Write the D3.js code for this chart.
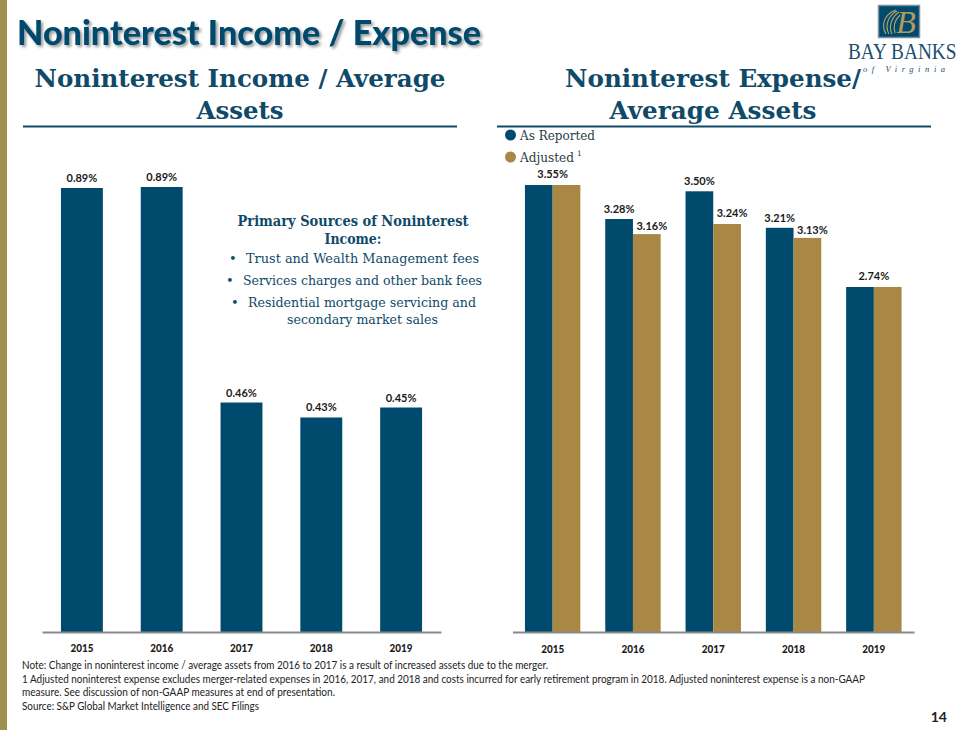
<!DOCTYPE html>
<html><head><meta charset="utf-8">
<script src="https://cdnjs.cloudflare.com/ajax/libs/d3/7.8.5/d3.min.js"></script>
<style>html,body{margin:0;background:#fff}svg{display:block}</style></head><body>
<svg id="c" width="960" height="730"></svg>
<script>
const years=["2015","2016","2017","2018","2019"];
const incomeValues=[0.89,0.892,0.46,0.43,0.45];
const reportedValues=[3.55,3.28,3.50,3.21,2.74];
const adjustedValues=[3.55,3.16,3.24,3.13,2.74];
const sourcesHeading=["Primary Sources of Noninterest","Income:"];
const sourcesList=[
 ["Trust and Wealth Management fees"],
 ["Services charges and other bank fees"],
 ["Residential mortgage servicing and","secondary market sales"]];
const notes=["Note: Change in noninterest income / average assets from 2016 to 2017 is a result of increased assets due to the merger.",
"1 Adjusted noninterest expense excludes merger-related expenses in 2016, 2017, and 2018 and costs incurred for early retirement program in 2018. Adjusted noninterest expense is a non-GAAP",
"measure. See discussion of non-GAAP measures at end of presentation.",
"Source: S&P Global Market Intelligence and SEC Filings"];
const navy="#004a6d",gold="#a98846",ink="#0f4a68";
const serif="'DejaVu Serif',serif",sans="Lato,'Open Sans',sans-serif";
const svg=d3.select("#c");
const defs=svg.append("defs");
const f=defs.append("filter").attr("id","sh").attr("x","-5%").attr("y","-20%").attr("width","110%").attr("height","150%");
f.append("feDropShadow").attr("dx",2).attr("dy",2).attr("stdDeviation",1.4).attr("flood-color","#000").attr("flood-opacity",.42);
svg.append("rect").attr("x",0).attr("y",0).attr("width",7).attr("height",730).attr("fill","#a0904f");
svg.append("text").attr("x",17).attr("y",44.5).attr("font-family",sans).attr("font-weight",900).attr("font-size",34).attr("fill",navy).attr("filter","url(#sh)").attr("textLength",464).attr("lengthAdjust","spacingAndGlyphs").text("Noninterest Income / Expense");

function heading(cx,lines,x1,x2,w){
 lines.forEach((l,i)=>svg.append("text").attr("x",cx).attr("y",86.5+i*32).attr("text-anchor","middle").attr("font-family",serif).attr("font-weight",700).attr("font-size",25).attr("fill",ink).attr("textLength",w[i]).attr("lengthAdjust","spacingAndGlyphs").text(l));
 svg.append("line").attr("x1",x1).attr("x2",x2).attr("y1",126.5).attr("y2",126.5).attr("stroke",ink).attr("stroke-width",2);
}
heading(240,["Noninterest Income / Average","Assets"],23,457,[411,87]);
heading(713,["Noninterest Expense/","Average Assets"],497,931,[296,207]);

const baseY=632;
const x1=d3.scaleBand().domain(years).range([42,441]).paddingInner(.475).paddingOuter(.2375);
const y1=d3.scaleLinear().domain([0,0.89]).range([baseY,188]);
svg.append("g").selectAll("rect").data(incomeValues).join("rect").attr("x",(d,i)=>x1(years[i])).attr("width",x1.bandwidth()).attr("y",d=>y1(d)).attr("height",d=>baseY-y1(d)).attr("fill",navy);
svg.append("g").selectAll("text").data(incomeValues).join("text").attr("x",(d,i)=>x1(years[i])+x1.bandwidth()/2).attr("y",d=>y1(d)-6).attr("text-anchor","middle").attr("font-family",sans).attr("font-weight",700).attr("font-size",11).attr("fill","#1a1a1a").text(d=>d.toFixed(2)+"%");
function axis(g,scale,pad){
 g.attr("transform",`translate(0,${baseY})`).call(d3.axisBottom(scale).tickSize(0).tickPadding(pad));
 g.select(".domain").attr("stroke","#8a8a8a").attr("stroke-width",2);
 g.selectAll("text").attr("font-family",sans).attr("font-weight",900).attr("font-size",11).attr("fill","#1a1a1a").attr("textLength",23).attr("lengthAdjust","spacingAndGlyphs");
}
axis(svg.append("g"),x1,9);

const x2=d3.scaleBand().domain(years).range([512.5,914]).paddingInner(.31).paddingOuter(.155);
const sub=d3.scaleBand().domain(["r","a"]).range([0,x2.bandwidth()]);
const y2=d3.scaleLinear().domain([0,3.55]).range([baseY,185]);
svg.append("g").selectAll("rect").data(reportedValues).join("rect").attr("x",(d,i)=>x2(years[i])+sub("r")).attr("width",sub.bandwidth()).attr("y",d=>y2(d)).attr("height",d=>baseY-y2(d)).attr("fill",navy);
svg.append("g").selectAll("rect").data(adjustedValues).join("rect").attr("x",(d,i)=>x2(years[i])+sub("a")).attr("width",sub.bandwidth()).attr("y",d=>y2(d)).attr("height",d=>baseY-y2(d)).attr("fill",gold);
const labelG=svg.append("g");
years.forEach((yr,i)=>{
 const same=reportedValues[i]===adjustedValues[i];
 const cx=x2(yr)+sub("r")+sub.bandwidth()/2;
 const lab=(v,x,dy)=>labelG.append("text").attr("x",x).attr("y",y2(v)-dy).attr("text-anchor","middle").attr("font-family",sans).attr("font-weight",700).attr("font-size",11).attr("fill","#1a1a1a").text(v.toFixed(2)+"%");
 if(same){lab(reportedValues[i],x2(yr)+x2.bandwidth()/2,7);}
 else{lab(reportedValues[i],cx,6);lab(adjustedValues[i],x2(yr)+sub("a")+sub.bandwidth()/2+5,i==2?7.5:4);}
});
axis(svg.append("g"),x2,10);
svg.selectAll(".tick text").attr("dy","1em");

[["As Reported",navy,135,75],["Adjusted",gold,157,54]].forEach(([t,c,y,w],i)=>{
 svg.append("circle").attr("cx",510.5).attr("cy",y).attr("r",5.5).attr("fill",c);
 svg.append("text").attr("x",520).attr("y",y+4.5).attr("font-family",serif).attr("font-size",13).attr("fill","#2c3e46").attr("textLength",w).attr("lengthAdjust","spacingAndGlyphs").text(t);
 if(i==1) svg.append("text").attr("x",577).attr("y",y-1).attr("font-family",serif).attr("font-size",7.5).attr("fill","#2c3e46").text("1");
});

[[226,231],[244,57]].forEach(([y,w],i)=>svg.append("text").attr("x",353).attr("y",y).attr("text-anchor","middle").attr("font-family",serif).attr("font-weight",700).attr("font-size",14).attr("fill",ink).attr("textLength",w).attr("lengthAdjust","spacingAndGlyphs").text(sourcesHeading[i]));
const rowY=[263,285,307];
const bulletX=[229,226,231],textX=[[246],[243],[248,287]],widths=[[233],[239],[228,151]];
sourcesList.forEach((lines,i)=>{
 svg.append("text").attr("x",bulletX[i]).attr("y",rowY[i]).attr("font-family",serif).attr("font-size",13).attr("fill",ink).text("•");
 lines.forEach((l,j)=>svg.append("text").attr("x",textX[i][j]).attr("y",rowY[i]+j*16.5).attr("font-family",serif).attr("font-size",13.5).attr("fill",ink).attr("textLength",widths[i][j]).attr("lengthAdjust","spacingAndGlyphs").text(l));
});

const noteW=[526,843,313,237];
notes.forEach((n,i)=>svg.append("text").attr("x",22).attr("y",669+i*13.5).attr("font-family",sans).attr("font-size",10.5).attr("fill","#222").attr("textLength",noteW[i]).attr("lengthAdjust","spacingAndGlyphs").text(n));
svg.append("text").attr("x",947).attr("y",722).attr("text-anchor","end").attr("font-family",sans).attr("font-weight",700).attr("font-size",14).attr("fill","#222").text("14");

// logo
const lg=svg.append("g");
lg.append("rect").attr("x",878.5).attr("y",5.5).attr("width",41).attr("height",32).attr("fill",navy).attr("stroke","#7d919b").attr("stroke-width",1.5);
["M886 34C880 24 886 13 896 10","M889 34C884 25 889 15 897 11","M892 34C888 26 892 17 899 12","M895 33C893 27 895 20 900 15"].forEach(p=>lg.append("path").attr("d",p).attr("fill","none").attr("stroke","#b9a468").attr("stroke-width",1.1));
lg.append("text").attr("x",906).attr("y",33).attr("text-anchor","middle").attr("font-family","'Liberation Serif',serif").attr("font-style","italic").attr("font-size",32).attr("fill","#b59a5c").text("B");
lg.append("text").attr("transform","translate(848,59) scale(.84,1)").attr("font-family","'Liberation Serif',serif").attr("font-size",23).attr("fill","#1d4f6e").text("BAY BANKS");
lg.append("text").attr("x",863).attr("y",72).attr("font-family","'Liberation Serif',serif").attr("font-style","italic").attr("font-size",8.5).attr("letter-spacing",4.6).attr("fill","#1d4f6e").text("of Virginia");
</script></body></html>
